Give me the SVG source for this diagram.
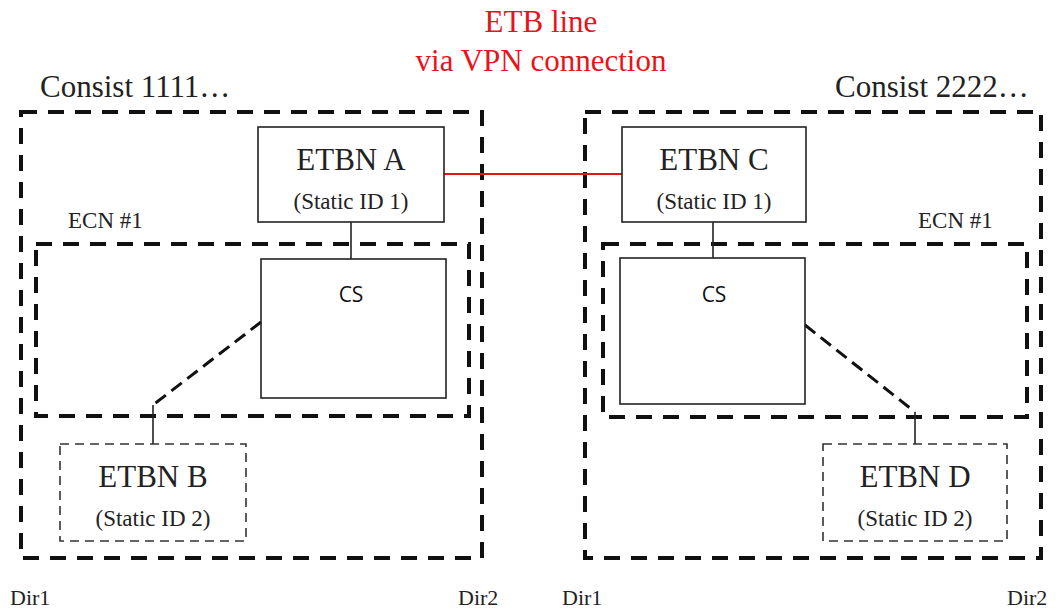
<svg xmlns="http://www.w3.org/2000/svg" width="1064" height="613" viewBox="0 0 1064 613">
<style>
.serif{font-family:"Liberation Serif","Times New Roman",serif;fill:#222}
.big{font-size:31px}
.mid{font-size:23px}
.sm{font-size:22px}
.red{fill:#e8141b}
.sans{font-family:"Open Sans","Liberation Sans",Arial,sans-serif;font-size:21px;fill:#111}
.outer{fill:none;stroke:#111;stroke-width:4;stroke-dasharray:16 11}
.solid{fill:#fff;stroke:#222;stroke-width:1.6}
.cs{fill:none;stroke:#222;stroke-width:1.6}
.dbox{fill:none;stroke:#333;stroke-width:1.6;stroke-dasharray:9 6}
.conn{fill:none;stroke:#222;stroke-width:1.6}
.dconn{fill:none;stroke:#111;stroke-width:3;stroke-dasharray:13 7}
</style>
<rect width="1064" height="613" fill="#fff"/>
<g id="titles">
<text class="serif big red" x="541" y="32" text-anchor="middle">ETB line</text>
<text class="serif big red" x="541" y="71" text-anchor="middle">via VPN connection</text>
<text class="serif big" x="40" y="97">Consist 1111…</text>
<text class="serif big" x="835" y="97">Consist 2222…</text>
<text class="serif sm" x="10" y="605">Dir1</text>
<text class="serif sm" x="458" y="605">Dir2</text>
<text class="serif sm" x="562" y="605">Dir1</text>
<text class="serif sm" x="1007" y="605">Dir2</text>
</g>
<g id="consist1">
<rect class="outer" x="21" y="112" width="461" height="446"/>
</g>
<g id="ecn1-left">
<rect class="outer" x="36" y="244" width="433" height="172"/>
<text class="serif mid" x="68" y="228">ECN #1</text>
</g>
<g id="consist2">
<rect class="outer" x="585" y="112" width="456" height="446"/>
</g>
<g id="ecn1-right">
<rect class="outer" x="603" y="244" width="424" height="173"/>
<text class="serif mid" x="918" y="228">ECN #1</text>
</g>
<g id="connectors">
<line x1="444" y1="174" x2="622" y2="174" stroke="#e8141b" stroke-width="2"/>
<line class="conn" x1="351" y1="222" x2="351" y2="259"/>
<line class="conn" x1="713" y1="222" x2="713" y2="258"/>
<polyline class="dconn" points="261,322 153,405"/>
<line class="conn" x1="153" y1="405" x2="153" y2="444"/>
<polyline class="dconn" points="805,325 915,412"/>
<line class="conn" x1="915" y1="412" x2="915" y2="444"/>
</g>
<g id="etbn-a">
<rect class="solid" x="258" y="127" width="186" height="95"/>
<text class="serif big" x="351" y="170" text-anchor="middle">ETBN A</text>
<text class="serif mid" x="351" y="209" text-anchor="middle">(Static ID 1)</text>
</g>
<g id="etbn-c">
<rect class="solid" x="622" y="127" width="184" height="95"/>
<text class="serif big" x="714" y="170" text-anchor="middle">ETBN C</text>
<text class="serif mid" x="714" y="209" text-anchor="middle">(Static ID 1)</text>
</g>
<g id="cs-left">
<rect class="cs" x="261" y="259" width="185" height="139"/>
<text class="sans" x="351" y="302" text-anchor="middle">CS</text>
</g>
<g id="cs-right">
<rect class="cs" x="620" y="258" width="185" height="146"/>
<text class="sans" x="714" y="302" text-anchor="middle">CS</text>
</g>
<g id="etbn-b">
<rect class="dbox" x="60" y="444" width="186" height="97"/>
<text class="serif big" x="153" y="487" text-anchor="middle">ETBN B</text>
<text class="serif mid" x="153" y="526" text-anchor="middle">(Static ID 2)</text>
</g>
<g id="etbn-d">
<rect class="dbox" x="823" y="444" width="184" height="97"/>
<text class="serif big" x="915" y="487" text-anchor="middle">ETBN D</text>
<text class="serif mid" x="915" y="526" text-anchor="middle">(Static ID 2)</text>
</g>
</svg>
